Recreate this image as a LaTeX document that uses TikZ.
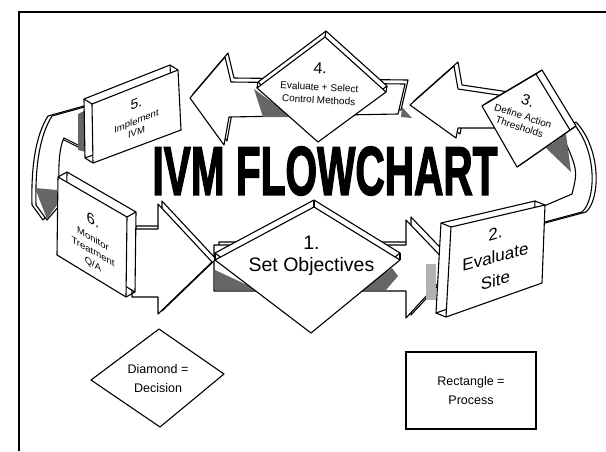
\documentclass[tikz,border=0pt]{standalone}
\usepackage{fontspec}
\setmainfont{Liberation Sans}
\newfontfamily\titlefont{Liberation Sans}[BoldFeatures={FakeBold=2.5}]
\usepackage{graphicx}
\usetikzlibrary{calc}

\tikzset{
  slab/.style={draw=black, fill=white, line width=1.1pt, line join=round},
  ring/.style={draw=black, fill=white, line width=1.1pt, line join=round},
  shadow/.style={fill=black!60},
  hatch/.style={fill=black!30},
  boxtext/.style={align=center, inner sep=0pt, font=\fontsize{9.5}{11}\selectfont},
  legend/.style={align=center, inner sep=0pt, font=\fontsize{12.5}{19}\selectfont},
}

% slab with thickness: corners (#1-1)..(#1-4), depth #2
\newcommand{\ivmslab}[2]{%
  \draw[slab] ($(#1-1)+(#2)$) -- ($(#1-2)+(#2)$) -- ($(#1-3)+(#2)$) -- ($(#1-4)+(#2)$) -- cycle;
  \foreach \k in {1,...,4} \draw[slab] (#1-\k) -- ($(#1-\k)+(#2)$);
  \draw[slab] (#1-1) -- (#1-2) -- (#1-3) -- (#1-4) -- cycle;
}
% block arrow of the ring, drawn twice for thickness
\newcommand{\ivmring}[2]{%
  \begin{scope}[shift={(#1)}]\draw[ring] #2;\end{scope}
  \draw[ring] #2;
}

\begin{document}
\begin{tikzpicture}[x=1pt, y=-1pt]
\useasboundingbox (0,0) rectangle (606,451);
\draw[line width=1.4pt] (19,451) -- (19,12) -- (606,12);

% ring: 2 -> 3 and 5 -> 6
\ivmring{4,0}{(530,212) -- (572,194) .. controls (578,170) .. (560,130) -- (572,122) .. controls (598,150) and (596,200) .. (582,212) -- (530,226) -- cycle}
\ivmring{-4,0}{(88,106) -- (52,116) .. controls (40,135) and (35,165) .. (36,205) -- (47,220) -- (60,205) .. controls (58,175) and (58,150) .. (64,138) -- (88,150) -- cycle}

% ring: 4 -> 5, 3 -> 4
\ivmring{3,-4}{(405,84) -- (231,82) -- (225,57) -- (190,98) -- (224,145) -- (229,117) -- (398,114) -- cycle}
\ivmring{4,-4}{(505,96) -- (458,89) -- (454,66) -- (410,105) -- (456,138) -- (458,128) -- (503,128) -- cycle}

% ring: 1 -> 2, 6 -> 1
\ivmring{5,-3}{(214,245) -- (406,245) -- (406,220) -- (452,268) -- (406,318) -- (406,291) -- (214,291) -- cycle}
\ivmring{4,-3}{(132,229) -- (158,229) -- (158,204) -- (212,262) -- (158,314) -- (158,297) -- (132,297) -- cycle}

% shading
\fill[shadow] (254,89) -- (292,117) -- (263,117) -- cycle;
\fill[shadow] (402,107) -- (412,118) -- (401,117) -- cycle;
\fill[shadow] (215,270) -- (258,290) -- (215,290) -- cycle;
\fill[shadow] (360,290) -- (392,268) -- (398,276) -- (386,290) -- cycle;
\fill[hatch] (426,264) rectangle (436,300);
\fill[shadow] (546,148) -- (566,134) -- (571,172) -- cycle;
\fill[shadow] (35,188) -- (47,219) -- (57,205) -- (57,190) -- cycle;
\fill[shadow] (78,114) -- (86,110) -- (86,152) -- (78,150) -- cycle;

% 5. Implement IVM
\path (92,104) coordinate (b5-1) (178,70) coordinate (b5-2)
      (181,130) coordinate (b5-3) (93,163) coordinate (b5-4);
\ivmslab{b5}{-8,-5}
% 6. Monitor Treatment Q/A
\path (58,177) coordinate (b6-1) (127,217) coordinate (b6-2)
      (126,297) coordinate (b6-3) (57,255) coordinate (b6-4);
\ivmslab{b6}{9,-5}
% 2. Evaluate Site
\path (451,227) coordinate (b2-1) (545,205) coordinate (b2-2)
      (542,283) coordinate (b2-3) (446,317) coordinate (b2-4);
\ivmslab{b2}{-10,-4}
% 3. Define Action Thresholds
\path (482,106) coordinate (b3-1) (536,74) coordinate (b3-2)
      (570,130) coordinate (b3-3) (517,167) coordinate (b3-4);
\ivmslab{b3}{6,-4}
% 4. Evaluate + Select (diamond)
\path (257,88) coordinate (d4-1) (325,37) coordinate (d4-2)
      (386,92) coordinate (d4-3) (318,142) coordinate (d4-4);
\ivmslab{d4}{1,-6}
% 1. Set Objectives (diamond)
\path (215,260) coordinate (d1-1) (314,207) coordinate (d1-2)
      (400,260) coordinate (d1-3) (311,333) coordinate (d1-4);
\ivmslab{d1}{0,-7}

% texts
\node[boxtext, font=\fontsize{19.5}{22}\selectfont] (t1) at ($(d1-1)!0.5!(d1-3)+(4,-4)$)
  {1.\\Set Objectives};
\node[boxtext, yslant=0.27, font=\fontsize{17}{23.5}\selectfont] (t2) at ($(b2-1)!0.5!(b2-3)+(-1,2)$)
  {2.\\Evaluate\\Site};
\node[boxtext, rotate=-18, font=\fontsize{10}{11.5}\selectfont] (t3) at ($(b3-1)!0.5!(b3-3)+(-2,-5)$)
  {{\fontsize{15}{15}\selectfont 3.}\\[3pt]Define Action\\Thresholds};
\node[boxtext, rotate=-3, font=\fontsize{10}{13}\selectfont] (t4) at ($(d4-1)!0.5!(d4-3)+(-2,-7)$)
  {{\fontsize{16}{16}\selectfont 4.}\\[4pt]Evaluate + Select\\Control Methods};
\node[boxtext, yslant=0.4] (t5) at ($(b5-1)!0.5!(b5-3)$)
  {{\fontsize{14}{14}\selectfont 5.}\\[5pt]Implement\\IVM};
\node[boxtext, yslant=-0.58, font=\fontsize{9.5}{12.5}\selectfont] (t6) at ($(b6-1)!0.5!(b6-3)+(1,5)$)
  {{\fontsize{15}{15}\selectfont 6.}\\[4pt]Monitor\\Treatment\\Q/A};

% title
\node[inner sep=0pt] (title) at (325,171) {\resizebox{345pt}{48pt}{\titlefont\bfseries IVM FLOWCHART}};

% legend
\draw[slab] (159,329) coordinate (ld-t) -- (224,374) coordinate (ld-r)
  -- (160,427) coordinate (ld-b) -- (91,380) coordinate (ld-l) -- cycle;
\node[legend] (ltext) at (158,379) {Diamond =\\Decision};
\node[draw, line width=1.1pt, minimum width=130pt, minimum height=77pt, legend] (lrect) at (471,390.5) {Rectangle =\\Process};
\end{tikzpicture}
\end{document}
